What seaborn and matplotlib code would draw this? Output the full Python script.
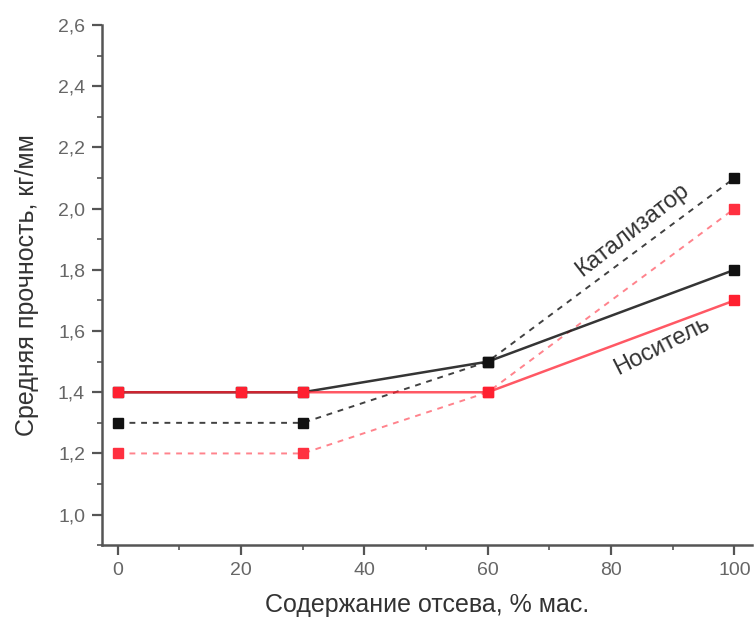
import numpy as np
import pandas as pd
import matplotlib
matplotlib.use('Agg')
import matplotlib.pyplot as plt
import seaborn as sns
from matplotlib.ticker import FuncFormatter, MultipleLocator

sns.set_style('ticks')
plt.rcParams['font.family'] = ['Liberation Sans', 'DejaVu Sans']

# data
x_solid = [0, 20, 30, 60, 100]
cat_solid = [1.4, 1.4, 1.4, 1.5, 1.8]     # black solid
nos_solid = [1.4, 1.4, 1.4, 1.4, 1.7]     # red solid
x_dot = [0, 30, 60, 100]
cat_dot = [1.3, 1.3, 1.5, 2.1]            # black dotted
nos_dot = [1.2, 1.2, 1.4, 2.0]            # red dotted

series = [
    ('cat_dot', x_dot, cat_dot, '#111111', (0, (3, 3)), 0.8),
    ('nos_dot', x_dot, nos_dot, '#ff3040', (0, (3, 3)), 0.6),
    ('cat_solid', x_solid, cat_solid, '#111111', '-', 0.85),
    ('nos_solid', x_solid, nos_solid, '#ff2030', '-', 0.75),
]

fig = plt.figure(figsize=(7.54, 6.26), dpi=100)
ax = fig.add_axes([0.135, 0.129, 0.862, 0.831])

for name, xs, ys, col, ls, a in series:
    df = pd.DataFrame({'x': xs, 'y': ys})
    sns.lineplot(data=df, x='x', y='y', ax=ax, color=col, linestyle=ls,
                 linewidth=1.8 if ls == '-' else 1.4, alpha=a)
    ax.plot(xs, ys, linestyle='none', marker='s', markersize=7.5, color=col,
            markeredgecolor=col)

ax.set_xlim(-2.6, 102.8)
ax.set_ylim(0.9, 2.6)
ax.xaxis.set_major_locator(MultipleLocator(20))
ax.xaxis.set_minor_locator(MultipleLocator(10))
ax.yaxis.set_major_locator(MultipleLocator(0.2))
ax.yaxis.set_minor_locator(MultipleLocator(0.1))
ax.yaxis.set_major_formatter(FuncFormatter(lambda v, p: f'{v:.1f}'.replace('.', ',')))

sns.despine(ax=ax)
for s in ['left', 'bottom']:
    ax.spines[s].set_color('#555555')
    ax.spines[s].set_linewidth(1.8)
ax.tick_params(axis='both', which='major', length=7, width=1.6, color='#555555',
               labelsize=14, labelcolor='#666666', pad=5)
ax.tick_params(axis='both', which='minor', length=3.5, width=1.2, color='#555555')

ax.set_xlabel('Содержание отсева, % мас.', fontsize=18, color='#333333', labelpad=10)
ax.set_ylabel('Средняя прочность, кг/мм', fontsize=18, color='#333333', labelpad=14)

ax.text(83.5, 1.93, 'Катализатор', rotation=38, fontsize=17, color='#333333',
        ha='center', va='center')
ax.text(88.3, 1.55, 'Носитель', rotation=27, fontsize=17, color='#333333',
        ha='center', va='center')

fig.savefig('out.png', dpi=100)
